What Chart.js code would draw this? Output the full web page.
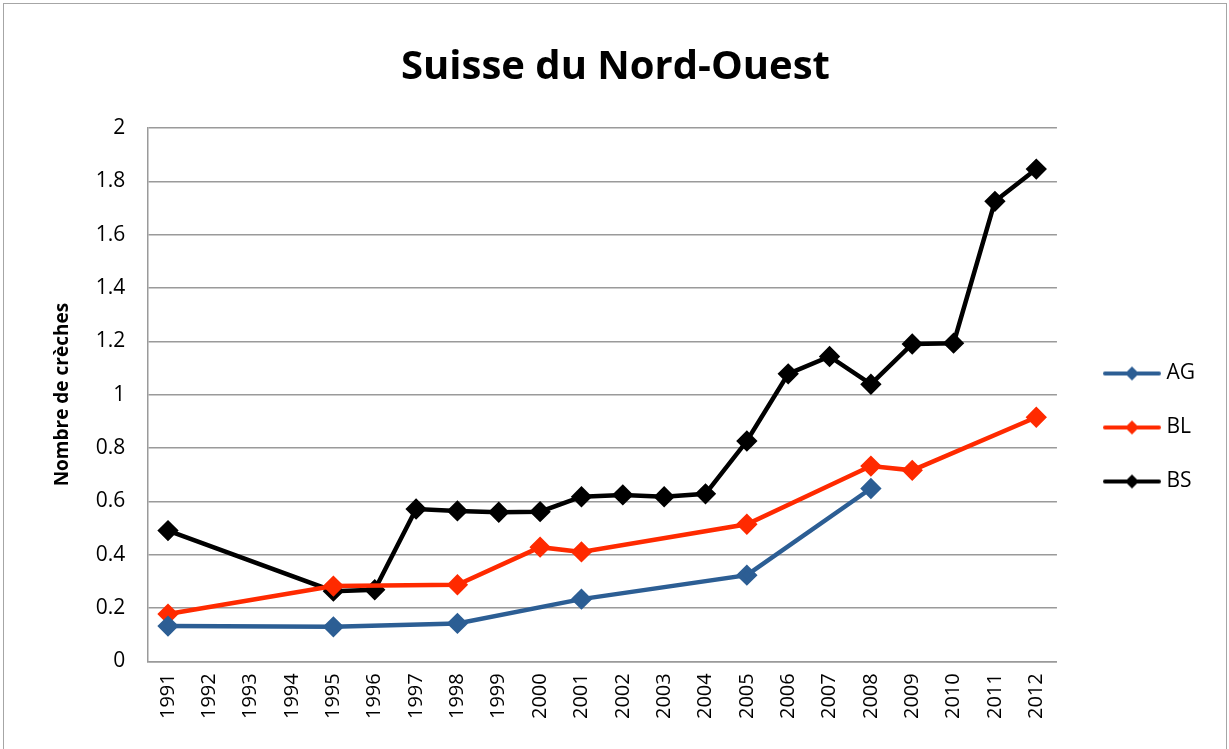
<!DOCTYPE html>
<html>
<head>
<meta charset="utf-8">
<script src="https://cdn.jsdelivr.net/npm/chart.js@4"></script>
<style>
  html, body { margin: 0; padding: 0; background: #fff; overflow: hidden; }
  #myChart { position: absolute; left: 0; top: 0; }
  #frame { position: absolute; left: 3px; top: 3px; width: 1224px; height: 750px; border: 1.5px solid #a6a6a6; box-sizing: border-box; pointer-events: none; }
</style>
</head>
<body>
<canvas id="myChart" width="1229" height="749"></canvas>
<div id="frame"></div>
<script>
const years = ['1991', '1992', '1993', '1994', '1995', '1996', '1997', '1998', '1999', '2000', '2001',
               '2002', '2003', '2004', '2005', '2006', '2007', '2008', '2009', '2010', '2011', '2012'];
const ag = [0.132, null, null, null, 0.129, null, null, 0.142, null, null, 0.233,
            null, null, null, 0.323, null, null, 0.648, null, null, null, null];
const bl = [0.177, null, null, null, 0.282, null, null, 0.287, null, 0.428, 0.410,
            null, null, null, 0.514, null, null, 0.732, 0.716, null, null, 0.915];
const bs = [0.490, null, null, null, 0.263, 0.268, 0.571, 0.564, 0.559, 0.561, 0.617,
            0.624, 0.617, 0.628, 0.826, 1.078, 1.143, 1.039, 1.190, 1.193, 1.725, 1.846];
const yTicks = [0, 0.2, 0.4, 0.6, 0.8, 1, 1.2, 1.4, 1.6, 1.8, 2];

const fontFam = "'Open Sans', 'Liberation Sans', sans-serif";

// petite icône de légende : trait + losange
function legendIcon(color) {
    const c = document.createElement('canvas');
    c.width = 60; c.height = 18;
    const g = c.getContext('2d');
    g.strokeStyle = color; g.lineWidth = 4; g.lineCap = 'round';
    g.beginPath(); g.moveTo(3, 9); g.lineTo(57, 9); g.stroke();
    g.fillStyle = color;
    g.beginPath(); g.moveTo(30, 2); g.lineTo(37, 9); g.lineTo(30, 16); g.lineTo(23, 9); g.closePath(); g.fill();
    return c;
}

function serie(label, data, color) {
    return {
        label: label,
        data: data,
        borderColor: color,
        backgroundColor: color,
        pointBackgroundColor: color,
        pointBorderColor: color,
        pointStyle: 'rectRot',
        pointRadius: 7.5,
        borderWidth: 4.5,
        tension: 0,
        spanGaps: true,
        fill: false
    };
}

const ctx = document.getElementById('myChart').getContext('2d');
const myChart = new Chart(ctx, {
    type: 'line',
    data: {
        labels: years,
        datasets: [
            serie('AG', ag, '#2c5e94'),
            serie('BL', bl, '#ff2a00'),
            serie('BS', bs, '#000000')
        ]
    },
    options: {
        responsive: false,
        animation: false,
        layout: { padding: { left: 26, right: 24, top: 10, bottom: 18 } },
        plugins: {
            legend: {
                position: 'right',
                title: { display: true, text: ' ', font: { size: 20 }, padding: 45 },
                labels: {
                    color: '#000',
                    font: { family: fontFam, size: 21 },
                    usePointStyle: true,
                    pointStyleWidth: 48,
                    padding: 33,
                    generateLabels: (chart) => chart.data.datasets.map((ds, i) => ({
                        text: ds.label,
                        pointStyle: legendIcon(ds.borderColor),
                        fillStyle: ds.borderColor,
                        strokeStyle: ds.borderColor,
                        lineWidth: 0,
                        hidden: false,
                        datasetIndex: i,
                        fontColor: '#000'
                    }))
                }
            },
            title: {
                display: true,
                text: 'Suisse du Nord-Ouest',
                font: { family: fontFam, size: 40, weight: 'bold' },
                color: '#000',
                padding: { top: 34, bottom: 36 }
            },
            tooltip: { enabled: false }
        },
        scales: {
            y: {
                min: 0,
                max: 2,
                afterBuildTicks: (axis) => { axis.ticks = yTicks.map(v => ({ value: v })); },
                ticks: {
                    color: '#000',
                    font: { family: fontFam, size: 21 },
                    padding: 22,
                    callback: (v) => String(v)
                },
                grid: { color: '#9a9a9a', lineWidth: 1.5, drawTicks: false },
                border: { color: '#9a9a9a', width: 1.5 },
                title: {
                    display: true,
                    text: 'Nombre de crèches',
                    color: '#000',
                    font: { family: fontFam, size: 19, weight: 'bold' },
                    padding: { top: 25, bottom: 0 }
                }
            },
            // espace vide entre le graphique et la légende
            pad: {
                position: 'right',
                display: true,
                grid: { display: false },
                border: { display: false },
                ticks: { display: false },
                afterFit: (s) => { s.width = 18; }
            },
            x: {
                offset: true,
                ticks: {
                    color: '#000',
                    font: { family: fontFam, size: 20 },
                    maxRotation: 90,
                    minRotation: 90,
                    padding: 12
                },
                grid: { display: false, drawTicks: false },
                border: { color: '#9a9a9a', width: 1.5 }
            }
        }
    }
});
</script>
</body>
</html>
